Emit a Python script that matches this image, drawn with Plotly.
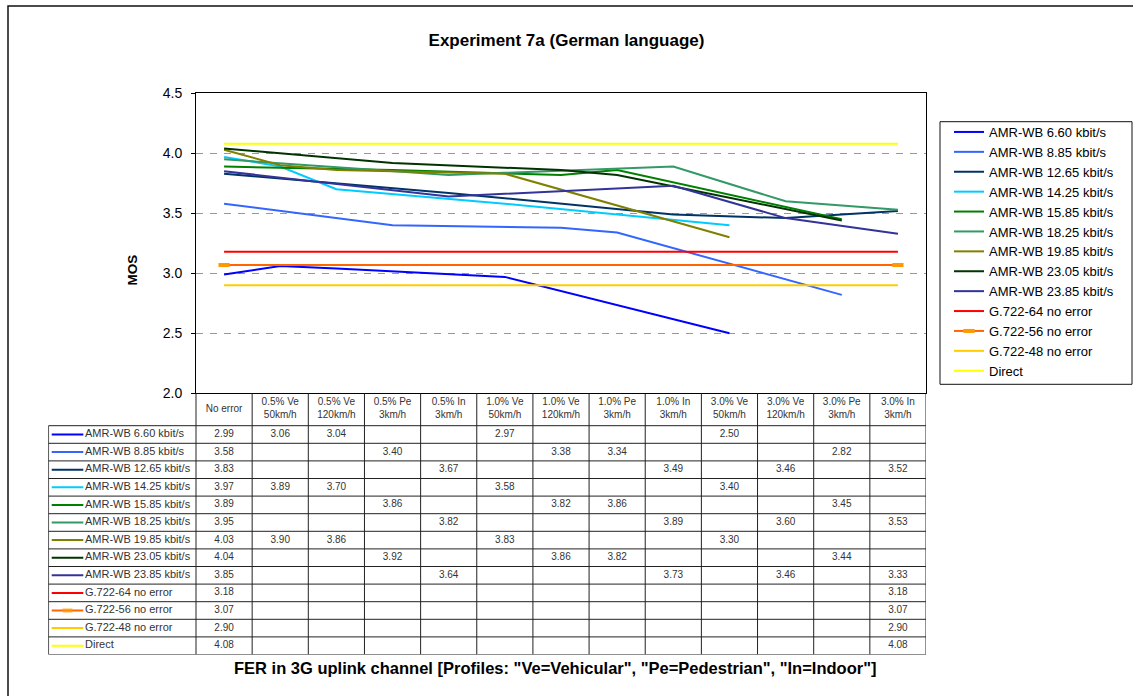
import plotly.graph_objects as go

W, H = 1133, 696

categories = ["No error", "0.5% Ve 50km/h", "0.5% Ve 120km/h", "0.5% Pe 3km/h", "0.5% In 3km/h",
              "1.0% Ve 50km/h", "1.0% Ve 120km/h", "1.0% Pe 3km/h", "1.0% In 3km/h",
              "3.0% Ve 50km/h", "3.0% Ve 120km/h", "3.0% Pe 3km/h", "3.0% In 3km/h"]
header_labels = ["No error", "0.5% Ve<br>50km/h", "0.5% Ve<br>120km/h", "0.5% Pe<br>3km/h", "0.5% In<br>3km/h",
                 "1.0% Ve<br>50km/h", "1.0% Ve<br>120km/h", "1.0% Pe<br>3km/h", "1.0% In<br>3km/h",
                 "3.0% Ve<br>50km/h", "3.0% Ve<br>120km/h", "3.0% Pe<br>3km/h", "3.0% In<br>3km/h"]

series_names = ["AMR-WB 6.60 kbit/s", "AMR-WB 8.85 kbit/s", "AMR-WB 12.65 kbit/s", "AMR-WB 14.25 kbit/s",
                "AMR-WB 15.85 kbit/s", "AMR-WB 18.25 kbit/s", "AMR-WB 19.85 kbit/s", "AMR-WB 23.05 kbit/s",
                "AMR-WB 23.85 kbit/s", "G.722-64 no error", "G.722-56 no error", "G.722-48 no error", "Direct"]
series_colors = ["#0000FF", "#3366FF", "#003366", "#00CCFF", "#008000", "#339966", "#808000", "#003300",
                 "#333399", "#FF0000", "#FF6600", "#FFCC00", "#FFFF00"]

N = None
amr_660 = [2.99, 3.06, 3.04, N, N, 2.97, N, N, N, 2.50, N, N, N]
amr_885 = [3.58, N, N, 3.40, N, N, 3.38, 3.34, N, N, N, 2.82, N]
amr_1265 = [3.83, N, N, N, 3.67, N, N, N, 3.49, N, 3.46, N, 3.52]
amr_1425 = [3.97, 3.89, 3.70, N, N, 3.58, N, N, N, 3.40, N, N, N]
amr_1585 = [3.89, N, N, 3.86, N, N, 3.82, 3.86, N, N, N, 3.45, N]
amr_1825 = [3.95, N, N, N, 3.82, N, N, N, 3.89, N, 3.60, N, 3.53]
amr_1985 = [4.03, 3.90, 3.86, N, N, 3.83, N, N, N, 3.30, N, N, N]
amr_2305 = [4.04, N, N, 3.92, N, N, 3.86, 3.82, N, N, N, 3.44, N]
amr_2385 = [3.85, N, N, N, 3.64, N, N, N, 3.73, N, 3.46, N, 3.33]
g722_64 = [3.18, N, N, N, N, N, N, N, N, N, N, N, 3.18]
g722_56 = [3.07, N, N, N, N, N, N, N, N, N, N, N, 3.07]
g722_48 = [2.90, N, N, N, N, N, N, N, N, N, N, N, 2.90]
direct = [4.08, N, N, N, N, N, N, N, N, N, N, N, 4.08]

all_values = [amr_660, amr_885, amr_1265, amr_1425, amr_1585, amr_1825, amr_1985,
              amr_2305, amr_2385, g722_64, g722_56, g722_48, direct]

FONT = "Liberation Sans, Arial, sans-serif"

# pixel geometry of the layout
PL, PR, PT, PB = 196.0, 926.0, 93.3, 393.3
TL, TB = 48.3, 654.5
HDR_B = 425.7
ncol = len(categories)
unit = (PR - PL) / ncol
x2_left = -0.5 - (PL - TL) / unit
row_h = (TB - HDR_B) / len(series_names)
hdr_units = (HDR_B - PB) / row_h

fig = go.Figure()

for name, vals, color in zip(series_names, all_values, series_colors):
    kw = {}
    mode = "lines"
    if name == "G.722-56 no error":
        mode = "lines+markers"
        kw["marker"] = dict(symbol="line-ew", size=8, line=dict(color="#FF9900", width=4), color="#FF9900")
    fig.add_trace(go.Scatter(x=categories, y=vals, mode=mode, connectgaps=True, name=name,
                             line=dict(color=color, width=2), xaxis="x", yaxis="y",
                             hoverinfo="skip", **kw))

# --- data table below the plot ---
tx, ty, tt = [], [], []
for i, vals in enumerate(all_values):
    for j, v in enumerate(vals):
        if v is not None:
            tx.append(j)
            ty.append(i + 0.5)
            tt.append(f"{v:.2f}")
fig.add_trace(go.Scatter(x=tx, y=ty, text=tt, mode="text", xaxis="x2", yaxis="y2",
                         textfont=dict(family=FONT, size=10, color="#333333"),
                         showlegend=False, hoverinfo="skip"))

fig.add_trace(go.Scatter(x=list(range(ncol)), y=[-hdr_units / 2] * ncol, text=header_labels,
                         mode="text", xaxis="x2", yaxis="y2",
                         textfont=dict(family=FONT, size=10, color="#333333"),
                         showlegend=False, hoverinfo="skip"))

key_x0 = x2_left + (51.7 - TL) / unit
key_x1 = x2_left + (83.3 - TL) / unit
name_x = x2_left + (85.0 - TL) / unit
for i, (name, color) in enumerate(zip(series_names, series_colors)):
    kw = {}
    mode = "lines"
    xs = [key_x0, key_x1]
    ys = [i + 0.5, i + 0.5]
    if name == "G.722-56 no error":
        mode = "lines+markers"
        xs = [key_x0, (key_x0 + key_x1) / 2, key_x1]
        ys = [i + 0.5] * 3
        kw["marker"] = dict(symbol="line-ew", size=[0, 7, 0], line=dict(color="#FF9900", width=4), color="#FF9900")
    fig.add_trace(go.Scatter(x=xs, y=ys, mode=mode, line=dict(color=color, width=2),
                             xaxis="x2", yaxis="y2", showlegend=False, hoverinfo="skip", **kw))

fig.add_trace(go.Scatter(x=[name_x] * len(series_names), y=[i + 0.5 for i in range(len(series_names))],
                         text=series_names, mode="text", textposition="middle right",
                         xaxis="x2", yaxis="y2",
                         textfont=dict(family=FONT, size=11, color="#333333"),
                         showlegend=False, hoverinfo="skip"))

shapes = []
line_style = dict(color="#222222", width=1)
for k in range(len(series_names) + 1):
    shapes.append(dict(type="line", xref="x2", yref="y2", x0=x2_left, x1=ncol - 0.5, y0=k, y1=k,
                       line=line_style))
for k in range(ncol + 1):
    shapes.append(dict(type="line", xref="x2", yref="y2", x0=k - 0.5, x1=k - 0.5,
                       y0=-hdr_units, y1=len(series_names), line=line_style))
shapes.append(dict(type="line", xref="x2", yref="y2", x0=x2_left, x1=x2_left,
                   y0=0, y1=len(series_names), line=dict(color="#222222", width=1.5)))
# outer frame of chart
shapes.append(dict(type="rect", xref="paper", yref="paper", x0=8 / W, x1=1.02, y0=-0.02, y1=1 - 6 / H,
                   line=dict(color="#111111", width=1.5), layer="below"))
# legend frame
shapes.append(dict(type="rect", xref="paper", yref="paper", x0=940 / W, x1=1132 / W,
                   y0=1 - 384.3 / H, y1=1 - 121.7 / H, line=dict(color="#111111", width=1), layer="below"))

fig.update_layout(
    width=W, height=H, autosize=False,
    margin=dict(l=0, r=0, t=0, b=0, pad=0, autoexpand=False),
    paper_bgcolor="white", plot_bgcolor="white",
    font=dict(family=FONT, color="#000000"),
    title=dict(text="<b>Experiment 7a (German language)</b>", x=0.5, xanchor="center",
               y=1 - 40 / H, yanchor="middle", font=dict(family=FONT, size=17, color="#000000")),
    xaxis=dict(domain=[PL / W, PR / W], type="category", categoryorder="array", categoryarray=categories,
               range=[-0.5, ncol - 0.5], showticklabels=False, ticks="", showgrid=False, zeroline=False,
               showline=True, mirror=True, linecolor="#000000", linewidth=1, anchor="y"),
    yaxis=dict(domain=[1 - PB / H, 1 - PT / H], range=[2, 4.5], tick0=2, dtick=0.5, tickformat=".1f",
               ticks="outside", ticklen=4, tickcolor="#000000", showline=True, mirror=True,
               linecolor="#000000", linewidth=1, showgrid=True, gridcolor="#999999", gridwidth=1,
               griddash="7px,7px", zeroline=False, tickfont=dict(family=FONT, size=14, color="#000000"),
               ticklabelstandoff=6, anchor="x"),
    xaxis2=dict(domain=[TL / W, PR / W], range=[x2_left, ncol - 0.5], visible=False, anchor="y2"),
    yaxis2=dict(domain=[1 - TB / H, 1 - PB / H], range=[len(series_names), -hdr_units], visible=False,
                anchor="x2"),
    legend=dict(x=949 / W, y=1 - 117 / H, xanchor="left", yanchor="top", borderwidth=0,
                bgcolor="rgba(0,0,0,0)", font=dict(family=FONT, size=13, color="#000000"),
                tracegroupgap=0),
    shapes=shapes,
    annotations=[
        dict(text="<b>MOS</b>", xref="paper", yref="paper", x=122 / W, y=1 - 270 / H, textangle=-90,
             showarrow=False, font=dict(family=FONT, size=13.5, color="#000000")),
        dict(text='<b>FER in 3G uplink channel [Profiles: "Ve=Vehicular", "Pe=Pedestrian", "In=Indoor"]</b>',
             xref="paper", yref="paper", x=555 / W, y=1 - 668 / H, xanchor="center", yanchor="middle",
             showarrow=False, font=dict(family=FONT, size=16.5, color="#000000")),
    ],
    hovermode=False,
)

fig.write_html("out.html", config={"displayModeBar": False},
               post_script="document.body.style.margin='0';document.body.style.overflow='hidden';")
